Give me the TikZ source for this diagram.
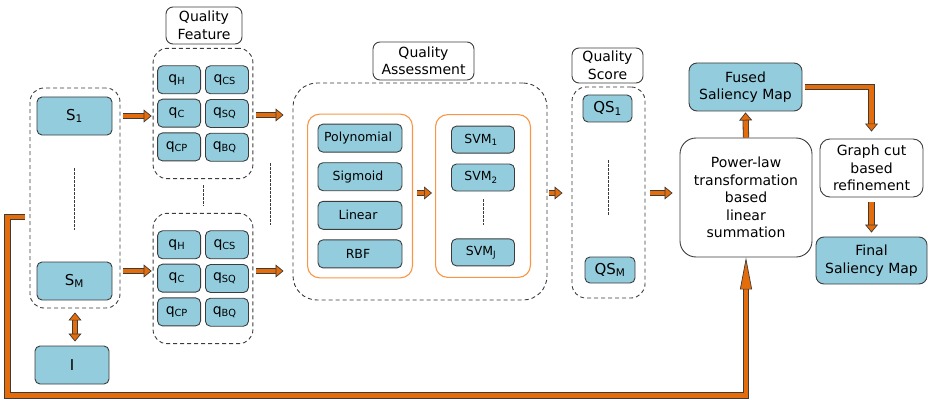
\documentclass[tikz,border=0pt]{standalone}
\usepackage{fontspec}
\setmainfont{DejaVu Sans}
\usepackage{tikz}
\usetikzlibrary{arrows.meta, positioning, calc, matrix}

\definecolor{boxblue}{RGB}{147,205,221}
\definecolor{flowor}{RGB}{228,108,10}
\definecolor{kernor}{RGB}{247,150,70}
\definecolor{edge}{RGB}{60,60,60}

\begin{document}
\begin{tikzpicture}[x=1pt, y=-1pt,
    every node/.style={font=\fontsize{14}{17.5}\selectfont, inner sep=0pt},
    blk/.style={draw=edge, fill=boxblue, line width=0.9pt, rounded corners=5pt, align=center},
    wbox/.style={draw=edge, fill=white, line width=0.9pt, rounded corners=12pt, align=center},
    lbl/.style={draw=edge, fill=white, line width=0.9pt, rounded corners=7pt, align=center},
    grp/.style={draw=edge, line width=0.9pt, dash pattern=on 4pt off 3pt, rounded corners=14pt},
    kgrp/.style={draw=kernor, line width=1.1pt, rounded corners=12pt},
    small/.style={font=\fontsize{12.5}{15}\selectfont},
    big/.style={font=\fontsize{15}{18}\selectfont},
    dotline/.style={draw=edge, line width=0.8pt, dash pattern=on 2.5pt off 1.5pt},
    flow/.style={draw=flowor, line width=4.6pt, line join=miter,
        preaction={draw=edge, line width=6.2pt, arrows=-, shorten >=5pt},
        -{Triangle[length=8pt, width=13pt, fill=flowor, color=edge, line width=0.7pt]}},
    flowboth/.style={draw=flowor, line width=4.6pt,
        preaction={draw=edge, line width=6.2pt, arrows=-, shorten >=5pt, shorten <=5pt},
        {Triangle[length=8pt, width=13pt, fill=flowor, color=edge, line width=0.7pt]}-{Triangle[length=8pt, width=13pt, fill=flowor, color=edge, line width=0.7pt]}},
    loopflow/.style={draw=flowor, line width=4.6pt, line join=miter,
        preaction={draw=edge, line width=6.2pt, arrows=-, shorten >=20pt, line join=miter},
        -{Triangle[length=32pt, width=12pt, fill=flowor, color=edge, line width=0.7pt]}}]
    \useasboundingbox (0,0) rectangle (928,401);

    % saliency maps
    \node[grp, minimum width=90pt, minimum height=220pt] (sgrp) at (75,198) {};
    \node[blk, big, minimum width=75pt, minimum height=38pt] (s1) at (74.5,116) {S\textsubscript{1}};
    \node[blk, big, minimum width=75pt, minimum height=38pt] (sm) at (74.5,281) {S\textsubscript{M}};
    \node[blk, big, minimum width=74pt, minimum height=38pt] (img) at (72,365) {I};
    \draw[dotline] (74,168) -- (74,230);
    \draw[flowboth] ([yshift=-4pt]sgrp.south) -- ([yshift=4pt]sgrp.south |- img.north);

    % quality features
    \node[lbl, minimum width=76pt, minimum height=37pt] (flbl) at (204,25.5) {Quality\\Feature};
    \matrix[matrix of nodes, grp, inner xsep=4pt, inner ysep=17pt,
        nodes={blk, minimum width=43pt, minimum height=28pt},
        column sep=4pt, row sep=4.5pt,
        ampersand replacement=\&] (f1) at (203,113.5) {
        q\textsubscript{H} \& q\textsubscript{CS} \\
        q\textsubscript{C} \& q\textsubscript{SQ} \\
        q\textsubscript{CP} \& q\textsubscript{BQ} \\
    };
    \matrix[matrix of nodes, grp, inner xsep=4pt, inner ysep=17pt,
        nodes={blk, minimum width=43pt, minimum height=28pt},
        column sep=4pt, row sep=4.5pt,
        ampersand replacement=\&] (f2) at (203,278.5) {
        q\textsubscript{H} \& q\textsubscript{CS} \\
        q\textsubscript{C} \& q\textsubscript{SQ} \\
        q\textsubscript{CP} \& q\textsubscript{BQ} \\
    };
    \draw[dotline] ([yshift=-6pt]f1.south) -- ([yshift=7pt]f2.north);
    \draw[dotline] (270,163) -- (270,225);
    \draw[flow] ([xshift=3pt]sgrp.east |- s1) -- ([xshift=-1pt]f1.west |- s1);
    \draw[flow] ([xshift=3pt,yshift=10pt]sgrp.east |- sm) -- ([xshift=-1pt,yshift=10pt]f2.west |- sm);

    % quality assessment
    \node[lbl, minimum width=101pt, minimum height=38pt] (qlbl) at (423.5,61) {Quality\\Assessment};
    \node[grp, minimum width=254pt, minimum height=217pt, rounded corners=24pt] (qgrp) at (420,191.5) {};
    \matrix[matrix of nodes, kgrp, inner xsep=10pt, inner ysep=9.5pt,
        nodes={blk, small, minimum width=84pt, minimum height=28pt},
        row sep=9.7pt,
        ampersand replacement=\&] (km) at (360,196) {
        Polynomial \\
        Sigmoid \\
        Linear \\
        RBF \\
    };
    \matrix[matrix of nodes, kgrp, inner xsep=15.5pt, inner ysep=11pt,
        nodes={blk, small, minimum width=63pt, minimum height=27pt},
        row sep=10pt,
        ampersand replacement=\&] (vm) at (483,196) {
        SVM\textsubscript{1} \\
        SVM\textsubscript{2} \\
        |[draw=none, fill=none]| {} \\
        SVM\textsubscript{J} \\
    };
    \draw[dotline] ([yshift=-8pt]vm-2-1.south) -- ([yshift=13pt]vm-4-1.north);
    \draw[flow] ([xshift=4pt,yshift=3pt]km.east) -- ([xshift=-3pt,yshift=3pt]vm.west);
    \draw[flow] ([xshift=3pt,yshift=-1.5pt]f1.east) -- ([xshift=-9pt]qgrp.west |- 0,115);
    \draw[flow] ([xshift=3pt,yshift=7.5pt]f2.east) -- ([xshift=-9pt]qgrp.west |- 0,271);

    % quality scores
    \node[lbl, minimum width=71pt, minimum height=35pt] (slbl) at (607.5,65.5) {Quality\\Score};
    \node[grp, minimum width=73pt, minimum height=211pt] (qsgrp) at (608.5,192.5) {};
    \node[blk, big, minimum width=49pt, minimum height=27pt] (qs1) at (607.5,108.5) {QS\textsubscript{1}};
    \node[blk, big, minimum width=50pt, minimum height=26pt] (qsm) at (610,270) {QS\textsubscript{M}};
    \draw[dotline] (608,160) -- (608,215);
    \draw[flow] ([xshift=2pt,yshift=-1.5pt]qgrp.east) -- ([xshift=-9pt]qsgrp.west |- 0,193);

    % fusion and refinement
    \node[wbox, minimum width=132pt, minimum height=119pt, rounded corners=16pt] (pw) at (746,197.5)
        {Power-law\\transformation\\based\\linear\\summation};
    \node[blk, minimum width=113pt, minimum height=48pt, rounded corners=8pt] (fz) at (745.5,87) {Fused\\Saliency Map};
    \node[wbox, minimum width=103pt, minimum height=58pt, rounded corners=10pt] (gc) at (871.5,168) {Graph cut\\based\\refinement};
    \node[blk, minimum width=111pt, minimum height=47pt, rounded corners=8pt] (fin) at (871.5,260.5) {Final\\Saliency Map};
    \draw[flow] ([xshift=5pt]qsgrp.east |- 0,193) -- ([xshift=-7pt]pw.west |- 0,193);
    \draw[flow] (pw.north) -- ([yshift=-1pt]fz.south);
    \draw[flow] ([xshift=3pt]fz.east) -| ([yshift=7pt]gc.north);
    \draw[flow] ([yshift=-5pt]gc.south) -- ([yshift=4pt]fin.north);
    \draw[loopflow] ([xshift=-5pt]sgrp.west |- 0,217) -- ++(-17,0) |- ($(pw.south)+(0,138)$) -- (pw.south);
\end{tikzpicture}
\end{document}
